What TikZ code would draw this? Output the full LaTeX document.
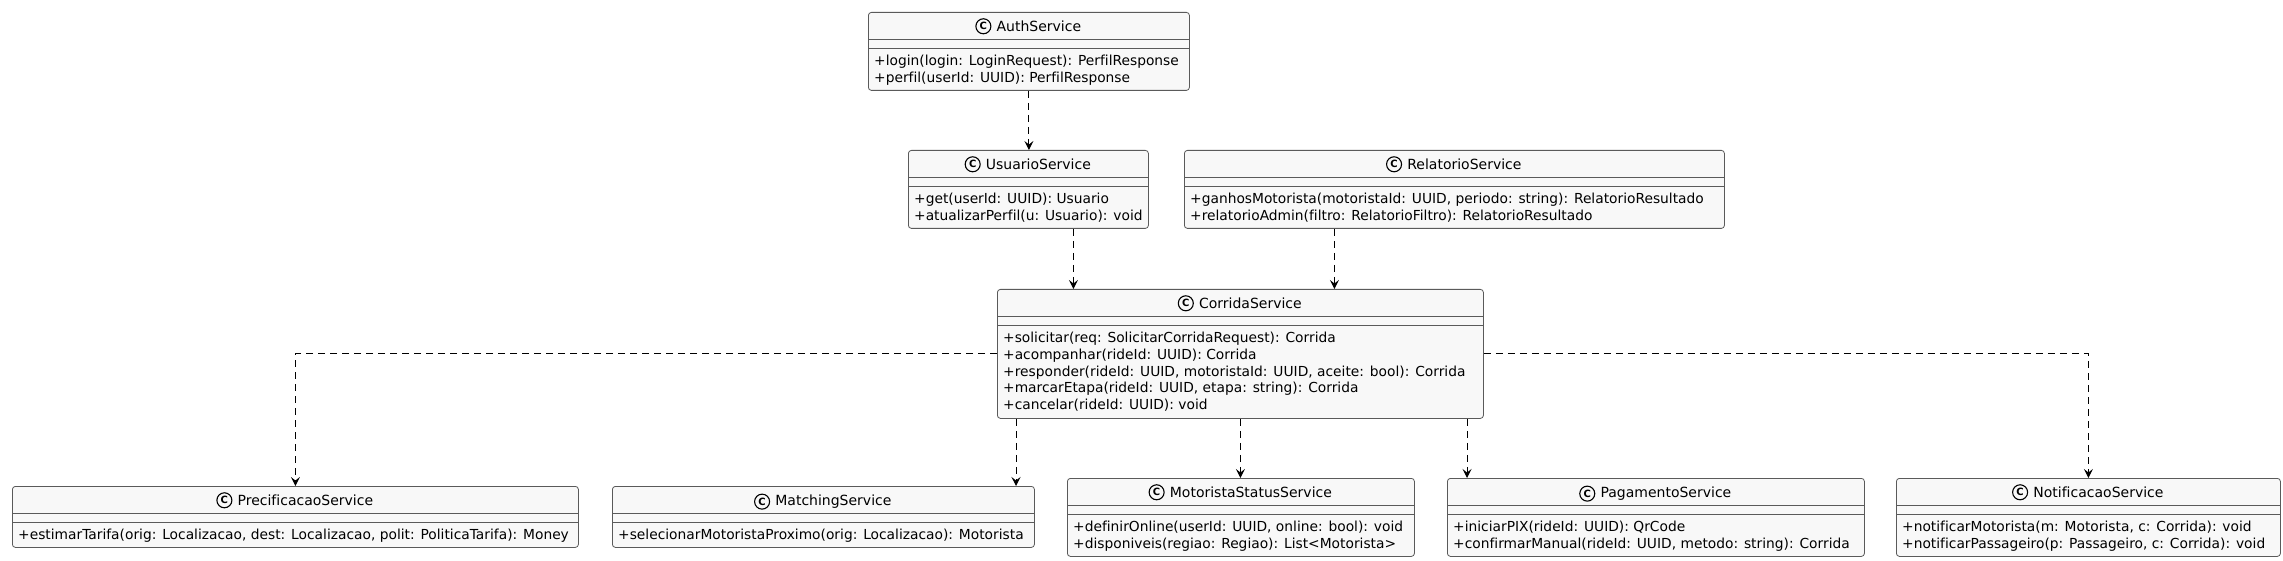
\documentclass[tikz,border=0pt]{standalone}
\usepackage{fontspec}
\setmainfont{DejaVu Sans}[Ligatures=NoCommon]
\usetikzlibrary{arrows.meta,calc,positioning}
\definecolor{boxfill}{HTML}{F8F8F8}
\definecolor{boxline}{HTML}{5A5A5A}

\begin{document}
\begin{tikzpicture}[x=1pt, y=-1pt,
		box/.style={draw=boxline, fill=boxfill, line width=0.8pt, rounded corners=3pt, inner sep=0pt},
		sep/.style={draw=boxline, line width=0.8pt},
		cname/.style={inner sep=0pt, font=\fontsize{14}{16.8}\selectfont},
		member/.style={inner sep=0pt, font=\fontsize{13.8}{16.8}\selectfont},
		spot/.style={circle, draw=black, line width=1.1pt, minimum size=15pt, inner sep=0pt, font=\fontsize{10}{10}\selectfont\bfseries},
		dep/.style={black, line width=1pt, dash pattern=on 7pt off 5pt, -{Stealth[length=9pt, width=9pt, inset=3.5pt]}}]
		% canvas
		\fill[white] (0,0) rectangle (2283,561);
		\useasboundingbox (0,0) rectangle (2283,561);

		% class box: name, left, top, width, height, title, members
		\def\umlclass#1#2#3#4#5#6#7{%
			\node[box, anchor=north west, minimum width=#4, minimum height=#5] (#1) at (#2,#3) {};
			\node[cname, anchor=base] (#1-name) at ($(#1.north)+(10,19.5)$) {#6};
			\node[spot, left=5pt of #1-name] (#1-spot) {C};
			\draw[sep] ($(#1.north west)+(0,27)$) -- ($(#1.north east)+(0,27)$);
			\draw[sep] ($(#1.north west)+(0,36)$) -- ($(#1.north east)+(0,36)$);
			\foreach \m [count=\i] in {#7}
				\node[member, anchor=base west] (#1-m\i) at ($(#1.north west)+(6,{53.5+16.8*(\i-1)})$) {\m};
		}

		% top services
		\umlclass{auth}{868}{12}{321}{78}{AuthService}{{+login(login: LoginRequest): PerfilResponse},{+perfil(userId: UUID): PerfilResponse}}
		\umlclass{usuario}{908}{150}{240}{78}{UsuarioService}{{+get(userId: UUID): Usuario},{+atualizarPerfil(u: Usuario): void}}
		\umlclass{relatorio}{1184}{150}{540}{78}{RelatorioService}{{+ganhosMotorista(motoristaId: UUID, periodo: string): RelatorioResultado},{+relatorioAdmin(filtro: RelatorioFiltro): RelatorioResultado}}
		\umlclass{corrida}{997}{289}{486}{129}{CorridaService}{{+solicitar(req: SolicitarCorridaRequest): Corrida},{+acompanhar(rideId: UUID): Corrida},{+responder(rideId: UUID, motoristaId: UUID, aceite: bool): Corrida},{+marcarEtapa(rideId: UUID, etapa: string): Corrida},{+cancelar(rideId: UUID): void}}

		% bottom services
		\umlclass{precificacao}{12}{486}{566}{61}{PrecificacaoService}{{+estimarTarifa(orig: Localizacao, dest: Localizacao, polit: PoliticaTarifa): Money}}
		\umlclass{matching}{612}{486}{422}{61}{MatchingService}{{+selecionarMotoristaProximo(orig: Localizacao): Motorista}}
		\umlclass{motoristastatus}{1067}{478}{347}{78}{MotoristaStatusService}{{+definirOnline(userId: UUID, online: bool): void},{+disponiveis(regiao: Regiao): List<Motorista>}}
		\umlclass{pagamento}{1447}{478}{417}{78}{PagamentoService}{{+iniciarPIX(rideId: UUID): QrCode},{+confirmarManual(rideId: UUID, metodo: string): Corrida}}
		\umlclass{notificacao}{1896}{478}{384}{78}{NotificacaoService}{{+notificarMotorista(m: Motorista, c: Corrida): void},{+notificarPassageiro(p: Passageiro, c: Corrida): void}}

		% dependencies
		\draw[dep] (auth.south) -- (auth.south |- usuario.north);
		\coordinate (u-out) at ([xshift=45pt]usuario.south);
		\draw[dep] (u-out) -- (u-out |- corrida.north);
		\coordinate (r-out) at ([xshift=-120pt]relatorio.south);
		\draw[dep] (r-out) -- (r-out |- corrida.north);
		\draw[dep] (corrida.west) -| (precificacao.north);
		\coordinate (c-match) at ([xshift=19pt]corrida.south west);
		\draw[dep] (c-match) -- (c-match |- matching.north);
		\draw[dep] (corrida.south) -- (corrida.south |- motoristastatus.north);
		\coordinate (p-in) at ([xshift=20pt]pagamento.north west);
		\draw[dep] (p-in |- corrida.south) -- (p-in);
		\draw[dep] (corrida.east) -| (notificacao.north);
	\end{tikzpicture}
\end{document}
